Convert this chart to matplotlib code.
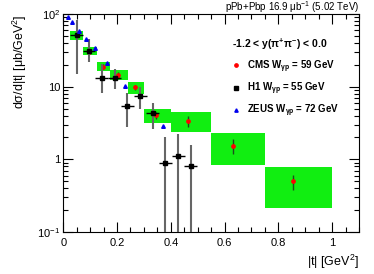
import numpy as np
import matplotlib
matplotlib.use("Agg")
import matplotlib.pyplot as plt
from matplotlib.patches import Rectangle
from matplotlib.ticker import FixedLocator, MultipleLocator, LogLocator, NullFormatter

plt.rcParams['font.family'] = ['Liberation Sans', 'DejaVu Sans']
plt.rcParams['mathtext.fontset'] = 'custom'
plt.rcParams['mathtext.rm'] = 'Liberation Sans'
plt.rcParams['mathtext.bf'] = 'Liberation Sans:bold'
plt.rcParams['mathtext.it'] = 'Liberation Sans:italic'

# CMS bins (green boxes = systematic band)
cms_lo = [0.025, 0.075, 0.125, 0.175, 0.24, 0.30, 0.40, 0.55, 0.75]
cms_hi = [0.075, 0.125, 0.175, 0.24, 0.30, 0.40, 0.55, 0.75, 1.00]
cms_t = [0.050, 0.096, 0.148, 0.205, 0.267, 0.346, 0.464, 0.633, 0.853]
cms_y = [51.0, 29.8, 18.8, 14.6, 9.8, 4.03, 3.39, 1.54, 0.498]
cms_stat = [3.0, 2.0, 1.5, 1.2, 0.9, 0.45, 0.6, 0.35, 0.12]
cms_sys_lo = [43.8, 26.9, 16.2, 12.3, 7.9, 3.13, 2.35, 0.835, 0.212]
cms_sys_hi = [58.7, 34.8, 21.8, 16.9, 11.6, 5.0, 4.43, 2.28, 0.791]

# H1
h1_t = [0.050, 0.096, 0.143, 0.191, 0.238, 0.287, 0.333, 0.380, 0.428, 0.475]
h1_y = [51.8, 31.0, 13.1, 13.25, 5.46, 7.43, 4.37, 0.90, 1.11, 0.80]
h1_up = [82.5, 44.6, 20.4, 17.3, 8.1, 9.8, 6.0, 2.04, 2.21, 1.57]
h1_dn = [14.9, 22.0, 8.1, 9.3, 2.8, 4.87, 2.63, 0.0, 0.0, 0.0]
h1_dt = 0.024

# ZEUS
zeus_t = [0.0185, 0.0344, 0.057, 0.084, 0.119, 0.161, 0.231, 0.370]
zeus_y = [89.6, 77.4, 59.2, 45.6, 34.2, 21.3, 10.3, 2.87]

fig = plt.figure(figsize=(3.74, 2.74), dpi=100)
ax = fig.add_axes([0.169, 0.153, 0.791, 0.796])
ax.set_yscale('log')
ax.set_xlim(0, 1.1)
ax.set_ylim(0.1, 100)

for lo, hi, a, b in zip(cms_lo, cms_hi, cms_sys_lo, cms_sys_hi):
    ax.add_patch(Rectangle((lo, a), hi - lo, b - a, facecolor='#11ee11',
                           edgecolor='none', zorder=1))

ax.errorbar(cms_t, cms_y, yerr=cms_stat, fmt='o', color='red', ms=2.4,
            ecolor='#1d4d1d', elinewidth=1, capsize=0, zorder=3)

h1_y = np.array(h1_y)
lower = np.array([y - d if d > 0 else y - 1e-4 for y, d in zip(h1_y, h1_dn)])
upper = np.array(h1_up) - h1_y
ax.errorbar(h1_t, h1_y, yerr=[lower, upper], fmt='none', ecolor='#666666',
            elinewidth=1.5, capsize=0, zorder=4)
ax.errorbar(h1_t, h1_y, xerr=h1_dt, fmt='s', color='black', ms=3,
            ecolor='black', elinewidth=1, capsize=0, zorder=5)

ax.plot(zeus_t, zeus_y, '^', color='#0000ee', ms=2.6, ls='none', zorder=6)

# legend
ax.plot([], [], 'o', color='red', ms=2.4, label=r'CMS $\mathbf{W_{γp}}$ = 59 GeV')
ax.plot([], [], 's', color='black', ms=2.4, label=r'H1 $\mathbf{W_{γp}}$ = 55 GeV')
ax.plot([], [], '^', color='#0000ee', ms=2.4, label=r'ZEUS $\mathbf{W_{γp}}$ = 72 GeV')
leg = ax.legend(loc='upper left', bbox_to_anchor=(0.572, 0.895), frameon=False,
                title=r'-1.2 < y($\mathbf{π^{+}π^{-}}$) < 0.0',
                prop={'weight': 'bold', 'size': 7},
                title_fontproperties={'weight': 'bold', 'size': 7.5},
                handlelength=0.8, handletextpad=0.7, labelspacing=0.62,
                borderaxespad=0, borderpad=0)
leg._legend_box.align = 'left'

ax.yaxis.set_major_locator(FixedLocator([0.1, 1, 10, 100]))
ax.set_yticklabels([r'$10^{-1}$', '1', '10', r'$10^{2}$'])
ax.yaxis.set_minor_locator(LogLocator(base=10, subs=np.arange(2, 10)))
ax.yaxis.set_minor_formatter(NullFormatter())
ax.xaxis.set_major_locator(MultipleLocator(0.2))
ax.xaxis.set_minor_locator(MultipleLocator(0.05))
ax.set_xticks([0, 0.2, 0.4, 0.6, 0.8, 1.0])
ax.set_xticklabels(['0', '0.2', '0.4', '0.6', '0.8', '1'])
ax.tick_params(which='both', direction='in', top=True, right=True,
               labelsize=8, width=0.8)
ax.tick_params(which='major', length=7)
ax.tick_params(which='minor', length=3.5)
ax.tick_params(axis='x', pad=4)
ax.tick_params(axis='y', pad=2)
for s in ax.spines.values():
    s.set_linewidth(0.8)

ax.set_xlabel(r'|t| [GeV$^{2}$]', fontsize=9, loc='right', labelpad=4)
ax.set_ylabel(r'dσ/d|t| [μb/GeV$^{2}$]', fontsize=9, loc='top', labelpad=6)
ax.text(1.0, 1.012, r'pPb+Pbp 16.9 μb$^{-1}$ (5.02 TeV)', transform=ax.transAxes,
        ha='right', va='baseline', fontsize=7)

fig.savefig('out.png', dpi=100)
